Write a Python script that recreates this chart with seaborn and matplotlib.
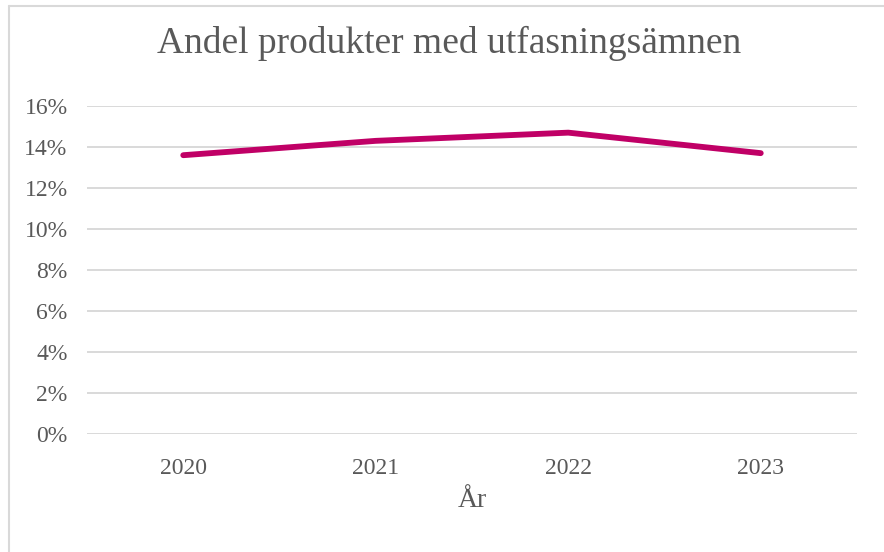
import numpy as np
import pandas as pd
import matplotlib.pyplot as plt
import matplotlib as mpl
from matplotlib.ticker import PercentFormatter
from matplotlib.lines import Line2D
import seaborn as sns

years = ['2020', '2021', '2022', '2023']
andel = [0.136, 0.143, 0.147, 0.137]

sns.set_style('white')
plt.rcParams['font.family'] = ['Liberation Serif', 'DejaVu Serif']

grey = '#595959'
df = pd.DataFrame({'year': years, 'andel': andel})

fig = plt.figure(figsize=(8.84, 5.52), dpi=100)
ax = fig.add_axes([87/884, 1 - 434/552, 770/884, 328/552])

sns.lineplot(data=df, x='year', y='andel', ax=ax, color='#C00066',
             linewidth=4.2, sort=False, solid_capstyle='round', zorder=3)

ax.set_xlim(-0.5, 3.5)
ax.set_ylim(0, 0.16)
ax.set_yticks(np.arange(0, 0.161, 0.02))
ax.yaxis.set_major_formatter(PercentFormatter(1.0, decimals=0))
ax.grid(axis='y', color='#D9D9D9', linewidth=1.4)
ax.set_axisbelow(True)
for s in ax.spines.values():
    s.set_visible(False)
ax.tick_params(axis='both', length=0, labelsize=17, labelcolor=grey)
ax.tick_params(axis='x', pad=17)
ax.tick_params(axis='y', pad=14)
ax.set_xlabel('År', fontsize=20, color=grey)
ax.xaxis.set_label_coords(0.5, -0.164)
ax.set_ylabel('')

fig.text(449/884, 1 - 53/552, 'Andel produkter med utfasningsämnen',
         ha='center', va='baseline', fontsize=27, color=grey)

# chart frame (top and left edges visible)
fig.add_artist(Line2D([9/884, 1], [1 - 6/552] * 2, color='#D9D9D9', lw=1.5))
fig.add_artist(Line2D([9/884] * 2, [0, 1 - 6/552], color='#D9D9D9', lw=1.5))

fig.savefig('out.png', dpi=100, facecolor='white')
